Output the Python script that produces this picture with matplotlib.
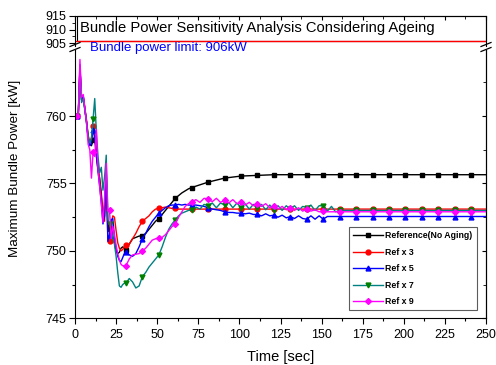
import numpy as np
import matplotlib
matplotlib.use('Agg')
import matplotlib.pyplot as plt
from matplotlib.lines import Line2D
from matplotlib.patches import Rectangle

plt.rcParams['font.family'] = ['Liberation Sans', 'DejaVu Sans']

# Data
t_early = np.concatenate([np.arange(0, 31, 1), np.arange(31, 70, 2)])
t_fine = np.concatenate([np.arange(71, 162, 2.5), np.arange(171, 242, 10), [250]])
t_coarse = np.concatenate([np.arange(71, 242, 10), [250]])

ref_early = [760.0, 760.0, 760.1, 763.6, 761.2, 761.5, 760.5, 759.6, 758.4, 757.9, 757.8,
             758.2, 758.5, 757.0, 756.0, 755.4, 754.3, 752.6, 753.4, 755.8, 752.0,
             751.6, 752.3, 751.0, 750.6, 750.0, 749.8, 749.9, 750.2, 750.3, 750.2,
             750.1, 750.5, 750.9, 751.0, 751.1, 751.1, 751.3, 751.6, 751.9, 752.2,
             752.4, 752.7, 753.0, 753.3, 753.6, 753.9, 754.1, 754.3, 754.45, 754.6]
ref_late = [754.7, 755.1, 755.4, 755.55, 755.6, 755.65, 755.65, 755.65, 755.65, 755.65,
            755.65, 755.65, 755.65, 755.65, 755.65, 755.65, 755.65, 755.65, 755.65]

x3_early = [760.0, 760.0, 760.1, 763.5, 761.3, 761.4, 760.6, 759.7, 758.6, 758.0, 758.4,
            759.3, 758.9, 757.5, 756.4, 755.2, 754.0, 753.0, 752.2, 755.3, 750.8,
            750.7, 752.0, 752.6, 752.5, 751.5, 750.6, 750.2, 750.0, 750.1, 750.3,
            750.4, 750.5, 750.9, 751.3, 751.8, 752.2, 752.4, 752.6, 752.9, 753.1,
            753.15, 753.2, 753.25, 753.2, 753.15, 753.15, 753.1, 753.1, 753.1, 753.1]
x3_late = [753.1] * 19

x5_early = [760.0, 760.0, 760.1, 763.8, 761.2, 761.5, 760.5, 759.5, 758.3, 757.8, 758.0,
            759.0, 758.4, 757.2, 755.9, 754.8, 753.6, 752.0, 752.6, 756.0, 750.7,
            751.2, 752.3, 752.4, 751.0, 750.2, 749.6, 749.3, 749.2, 749.5, 749.8,
            749.9, 749.7, 749.6, 749.8, 750.3, 750.9, 751.3, 751.8, 752.2, 752.5,
            752.8, 753.0, 753.2, 753.35, 753.4, 753.4, 753.45, 753.4, 753.45, 753.4]
x5_late = [753.4, 753.4, 753.35, 753.3, 753.2, 753.1, 753.05, 753.0, 752.9, 752.85,
           752.85, 752.8, 752.8, 752.75, 752.8, 752.7, 752.7, 752.6, 752.75, 752.6,
           752.65, 752.5, 752.65, 752.45, 752.55, 752.4, 752.6, 752.4, 752.35, 752.6,
           752.35, 752.6, 752.35, 752.55, 752.55, 752.55, 752.55,
           752.55, 752.55, 752.55, 752.55, 752.55, 752.55, 752.55, 752.55, 752.55]

x7_early = [760.0, 760.0, 760.1, 763.0, 761.0, 761.3, 760.4, 759.6, 758.5, 758.0, 758.3,
            759.8, 761.3, 758.8, 757.0, 755.8, 756.2, 754.5, 755.5, 757.1, 752.3,
            752.0, 751.5, 751.0, 750.5, 749.6, 748.4, 747.4, 747.3, 747.5, 747.6,
            747.6, 747.95, 747.7, 747.25, 747.4, 748.1, 748.4, 748.8, 749.1, 749.4,
            749.7, 750.3, 751.0, 751.6, 752.0, 752.3, 752.6, 752.8, 752.9, 753.0]
x7_late = [753.05, 753.25, 753.1, 753.45, 753.35, 753.55, 753.2, 753.55, 753.4, 753.6,
           753.2, 753.55, 753.2, 753.5, 753.1, 753.45, 753.15, 753.45, 753.05, 753.4,
           753.0, 753.35, 753.0, 753.35, 753.1, 753.35, 753.0, 753.3, 753.2, 753.4,
           753.0, 753.35, 753.35, 752.95, 753.3, 752.9, 753.0,
           753.0, 753.0, 753.0, 753.0, 753.0, 753.0, 753.0, 753.0, 753.0]

x9_early = [760.0, 760.0, 760.1, 764.2, 761.4, 761.6, 760.6, 759.5, 757.9, 757.5, 755.4,
            757.3, 757.0, 759.0, 756.0, 754.8, 753.5, 752.1, 754.0, 756.5, 753.0,
            753.0, 750.9, 751.8, 751.2, 750.4, 749.8, 749.3, 749.0, 748.9, 748.9,
            748.9, 749.4, 749.7, 749.75, 749.8, 750.0, 750.2, 750.5, 750.8, 750.9,
            750.95, 751.0, 751.2, 751.5, 751.8, 752.0, 752.5, 752.9, 753.3, 753.5]
x9_late = [753.6, 753.8, 753.6, 753.9, 753.85, 753.65, 753.9, 753.6, 753.75, 753.55,
           753.8, 753.5, 753.6, 753.4, 753.6, 753.35, 753.45, 753.3, 753.5, 753.2,
           753.3, 753.1, 753.3, 753.05, 753.2, 753.0, 753.2, 752.95, 753.1, 752.95,
           753.05, 752.9, 752.95, 752.9, 752.9, 752.9, 752.9,
           752.9, 752.9, 752.9, 752.9, 752.9, 752.9, 752.9, 752.9, 752.9]

labels = ['Reference(No Aging)', 'Ref x 3', 'Ref x 5', 'Ref x 7', 'Ref x 9']
limit_kw = 906

series = [
    (np.concatenate([t_early, t_coarse]), ref_early + ref_late, 'black', 'black', 's'),
    (np.concatenate([t_early, t_coarse]), x3_early + x3_late, 'red', 'red', 'o'),
    (np.concatenate([t_early, t_fine]), x5_early + x5_late, 'blue', 'blue', '^'),
    (np.concatenate([t_early, t_fine]), x7_early + x7_late, '#008080', '#008000', 'v'),
    (np.concatenate([t_early, t_fine]), x9_early + x9_late, 'magenta', 'magenta', 'D'),
]

W, H = 496, 365
fig = plt.figure(figsize=(W / 100, H / 100), dpi=100)
left, right = 75 / W, 486 / W
ax_top = fig.add_axes([left, 1 - 46 / H, right - left, 30 / H])
ax = fig.add_axes([left, 1 - 318.3 / H, right - left, (318.3 - 50) / H])

handles = []
for (t, v, lc, mc, m), lab in zip(series, labels):
    mk = [i for i, tt in enumerate(t) if abs((tt - 1) % 10) < 1e-6]
    ax.plot(t, v, color=lc, lw=1.0, marker=m, markevery=mk, ms=3.5 if m != 'D' else 3,
            mfc=mc, mec=mc)
    handles.append(Line2D([], [], color=lc, lw=1.0, marker=m, ms=3.5 if m != 'D' else 3,
                          mfc=mc, mec=mc, label=lab))

# bottom axes
ax.set_xlim(0, 250)
ax.set_ylim(745, 764.9)
ax.set_xticks(np.arange(0, 251, 25))
ax.set_xticks(np.arange(0, 251, 12.5), minor=True)
ax.set_yticks([745, 750, 755, 760])
ax.set_yticks(np.arange(745, 764, 2.5), minor=True)
ax.spines['top'].set_visible(False)
ax.tick_params(axis='x', direction='out', length=4, width=0.8, labelsize=9, pad=3.5)
ax.tick_params(axis='x', which='minor', direction='out', length=2.5, width=0.8)
ax.tick_params(axis='y', direction='out', length=4, width=0.8, labelsize=9, pad=2)
ax.tick_params(axis='y', which='minor', direction='out', length=2.5, width=0.8)
axr = ax.secondary_yaxis('right')
axr.set_yticks([745, 750, 755, 760])
axr.set_yticks(np.arange(745, 764, 2.5), minor=True)
axr.tick_params(axis='y', which='both', direction='in', length=3, labelright=False)
axr.tick_params(axis='y', which='minor', length=2)
ax.set_xlabel('Time [sec]', fontsize=10.5, labelpad=7)
ax.set_ylabel('Maximum Bundle Power [kW]', fontsize=9.7)
ax.yaxis.set_label_coords(-0.131, 0.56)

leg = ax.legend(handles=handles, loc='lower right', bbox_to_anchor=(0.977, 0.031),
                borderaxespad=0, fontsize=6.3, frameon=True, fancybox=False,
                handlelength=3.4, labelspacing=0.85, borderpad=0.45, handletextpad=0.25)
leg.get_frame().set_edgecolor('#333333')
leg.get_frame().set_linewidth(0.8)
for txt in leg.get_texts():
    txt.set_fontweight('bold')

# top axes
ax_top.set_xlim(0, 250)
ax_top.set_ylim(904, 915)
ax_top.set_xticks(np.arange(0, 251, 25))
ax_top.set_xticks(np.arange(0, 251, 12.5), minor=True)
ax_top.set_yticks([905, 910, 915])
ax_top.set_yticks([907.5, 912.5], minor=True)
ax_top.spines['bottom'].set_visible(False)
ax_top.tick_params(axis='x', which='both', bottom=False, labelbottom=False, top=True,
                   direction='in', length=3)
ax_top.tick_params(axis='x', which='minor', length=2)
ax_top.tick_params(axis='y', which='both', direction='out', length=4, labelsize=9, pad=2)
ax_top.tick_params(axis='y', which='minor', length=2.5)
ax_top.axhline(limit_kw, color='red', lw=1.0)
ax_top.add_patch(Rectangle((1, limit_kw), 249, 915 - limit_kw, fill=False,
                           edgecolor='black', lw=0.8, clip_on=False))
ax_top.text(3, 910.6, 'Bundle Power Sensitivity Analysis Considering Ageing',
            fontsize=10.6, va='center', ha='left')

fig.text(90 / W, 1 - 48 / H, 'Bundle power limit: 906kW', color='blue',
         fontsize=9.5, va='center', ha='left')

# break marks
for px in (75, 486):
    for py in (44.5, 49.5):
        fig.add_artist(Line2D([(px - 5) / W, (px + 5) / W],
                              [1 - (py + 2) / H, 1 - (py - 2) / H],
                              color='black', lw=0.9))

fig.savefig('out.png', dpi=100)
